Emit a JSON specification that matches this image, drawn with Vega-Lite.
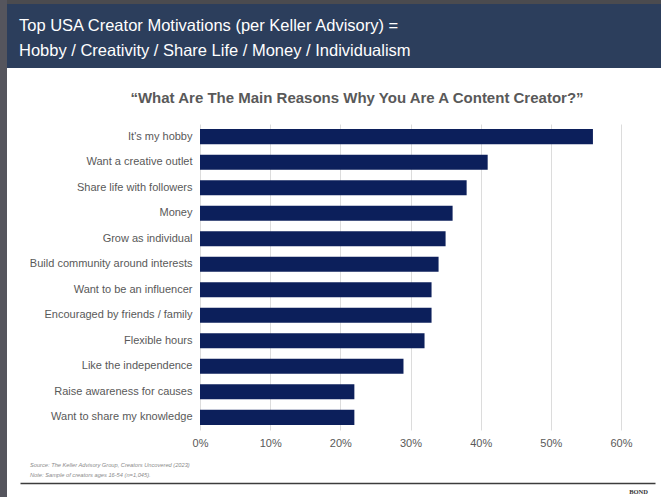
{
  "$schema": "https://vega.github.io/schema/vega-lite/v6.json",
  "background": "#ffffff",
  "padding": 0,
  "spacing": 0,
  "bounds": "flush",
  "config": {
    "view": {"stroke": null},
    "font": "Liberation Sans",
    "concat": {"spacing": 0}
  },
  "hconcat": [
    {
      "width": 7, "height": 497,
      "view": {"fill": "#55555d", "stroke": null},
      "data": {"values": [{}]},
      "mark": {"type": "rect", "opacity": 0},
      "encoding": {}
    },
    {
      "spacing": 0,
      "bounds": "flush",
      "vconcat": [
        {
          "width": 654, "height": 4,
          "view": {"fill": "#4b4b4f", "stroke": null},
          "data": {"values": [{}]},
          "mark": {"type": "rect", "opacity": 0},
          "encoding": {}
        },
        {
          "width": 654, "height": 64,
          "view": {"fill": "#2c3e5c", "stroke": null},
          "title": {
            "text": ["Top USA Creator Motivations (per Keller Advisory) =", "Hobby / Creativity / Share Life / Money / Individualism"],
            "orient": "top", "anchor": "start", "frame": "group",
            "offset": -55, "dx": 12,
            "font": "Liberation Sans", "fontSize": 16.5, "fontWeight": "normal",
            "color": "#ffffff", "lineHeight": 25
          },
          "data": {"values": [{}]},
          "mark": {"type": "rect", "opacity": 0},
          "encoding": {}
        },
        {
          "width": 654, "height": 56,
          "data": {"values": [{}]},
          "mark": {"type": "rect", "opacity": 0},
          "encoding": {}
        },
        {
          "width": 614, "height": 306,
          "title": {
            "text": "“What Are The Main Reasons Why You Are A Content Creator?”",
            "orient": "top", "anchor": "middle", "frame": "group", "offset": 18, "dx": 43,
            "fontSize": 15, "fontWeight": "bold", "color": "#595959", "font": "Liberation Sans"
          },
          "data": {"values": [
            {"reason": "It's my hobby", "share": 0.56},
            {"reason": "Want a creative outlet", "share": 0.41},
            {"reason": "Share life with followers", "share": 0.38},
            {"reason": "Money", "share": 0.36},
            {"reason": "Grow as individual", "share": 0.35},
            {"reason": "Build community around interests", "share": 0.34},
            {"reason": "Want to be an influencer", "share": 0.33},
            {"reason": "Encouraged by friends / family", "share": 0.33},
            {"reason": "Flexible hours", "share": 0.32},
            {"reason": "Like the independence", "share": 0.29},
            {"reason": "Raise awareness for causes", "share": 0.22},
            {"reason": "Want to share my knowledge", "share": 0.22}
          ]},
          "mark": {"type": "bar", "color": "#0c1f5b"},
          "encoding": {
            "y": {
              "field": "reason", "type": "nominal", "sort": null,
              "scale": {"paddingInner": 0.41, "paddingOuter": 0.2},
              "axis": {"title": null, "domain": false, "ticks": false, "labelPadding": 8, "offset": -193,
                "labelFontSize": 11, "labelColor": "#595959", "labelFont": "Liberation Sans", "labelLimit": 300}
            },
            "x": {
              "field": "share", "type": "quantitative",
              "scale": {"domain": [0, 0.6], "nice": false, "range": [193, 614]},
              "axis": {"title": null, "format": ".0%", "values": [0, 0.1, 0.2, 0.3, 0.4, 0.5, 0.6],
                "domain": false, "ticks": false, "grid": true, "gridColor": "#dcdcdc", "labelFlush": false,
                "labelPadding": 7, "labelFontSize": 11, "labelColor": "#595959", "labelFont": "Liberation Sans"}
            }
          }
        },
        {
          "width": 654, "height": 53,
          "title": {
            "text": "Source: The Keller Advisory Group, Creators Uncovered (2023)",
            "subtitle": "Note: Sample of creators ages 16-54 (n=1,045).",
            "orient": "top", "anchor": "start", "frame": "group", "offset": -48, "dx": 23,
            "fontSize": 5.7, "fontStyle": "italic", "fontWeight": "normal", "color": "#8a8a8a",
            "subtitleFontSize": 5.7, "subtitleFontStyle": "italic", "subtitleColor": "#8a8a8a", "subtitlePadding": 5
          },
          "data": {"values": [{}]},
          "mark": {"type": "rect", "opacity": 0},
          "encoding": {
            "x": {"datum": 0, "type": "quantitative",
              "scale": {"domain": [0, 1], "range": [13, 648]},
              "axis": {"orient": "bottom", "domain": true, "domainColor": "#3c3c3c", "domainWidth": 1.6,
                "labels": false, "ticks": false, "grid": false, "title": null}}
          }
        },
        {
          "width": 654, "height": 14,
          "title": {
            "text": "BOND", "orient": "top", "anchor": "end", "frame": "group", "offset": -12, "dx": -13,
            "font": "Liberation Serif", "fontSize": 6.5, "fontWeight": "bold", "color": "#333333"
          },
          "data": {"values": [{}]},
          "mark": {"type": "rect", "opacity": 0},
          "encoding": {}
        }
      ]
    }
  ]
}
